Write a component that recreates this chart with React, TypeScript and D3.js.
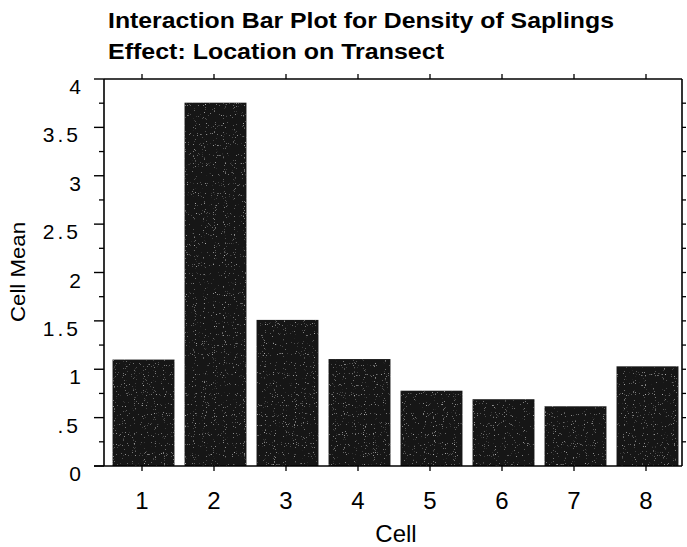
import React from "react";
import * as d3 from "d3";

const cells = ["1", "2", "3", "4", "5", "6", "7", "8"];
const cellMeans = [1.1, 3.755, 1.51, 1.105, 0.778, 0.69, 0.617, 1.03];
const yTickValues = [0, 0.5, 1, 1.5, 2, 2.5, 3, 3.5, 4];
const yTickLabels = ["0", ".5", "1", "1.5", "2", "2.5", "3", "3.5", "4"];
const yMinorTicks = [0.25, 0.75, 1.25, 1.75, 2.25, 2.75, 3.25, 3.75];
const titleLines = ["Interaction Bar Plot for Density of Saplings", "Effect: Location on Transect"];
const xLabel = "Cell";
const yLabel = "Cell Mean";

const W = 687;
const H = 547;
const plot = { left: 104, right: 682, top: 79, bottom: 466 };
const font = "'Liberation Sans', Arial, Helvetica, sans-serif";

export default function App() {
  const x = d3
    .scaleBand<string>()
    .domain(cells)
    .range([107.5, 683.5])
    .paddingInner(0.14)
    .paddingOuter(0.07);
  const y = d3.scaleLinear().domain([0, 4]).range([plot.bottom, plot.top]);
  const allQuarter = d3.range(0, 4.001, 0.25).map((v) => +v.toFixed(2));

  return (
    <svg
      width={W}
      height={H}
      style={{ position: "absolute", left: 0, top: 0, display: "block", background: "#fff" }}
    >
      <defs>
        <filter id="speckle" x="0" y="0" width="100%" height="100%">
          <feTurbulence type="fractalNoise" baseFrequency="0.9" numOctaves={1} seed={3} result="n" />
          <feColorMatrix
            in="n"
            type="matrix"
            values="0 0 0 0 0.45  0 0 0 0 0.45  0 0 0 0 0.45  0 0 0 6 -4.0"
            result="dots"
          />
          <feComposite in="dots" in2="SourceGraphic" operator="in" result="clip" />
          <feMerge>
            <feMergeNode in="SourceGraphic" />
            <feMergeNode in="clip" />
          </feMerge>
        </filter>
      </defs>

      {/* Title */}
      {titleLines.map((t, i) => (
        <text
          key={t}
          x={108}
          y={28 + i * 31}
          fontFamily={font}
          fontWeight="bold"
          fontSize={22}
          textLength={i === 0 ? 506 : 336}
          lengthAdjust="spacingAndGlyphs"
          fill="#000"
        >
          {t}
        </text>
      ))}

      {/* Bars */}
      {cells.map((c, i) => (
        <rect
          key={c}
          x={x(c)!}
          y={y(cellMeans[i])}
          width={x.bandwidth()}
          height={y(0) - y(cellMeans[i])}
          fill="#121212"
          filter="url(#speckle)"
        />
      ))}

      {/* Frame */}
      <line x1={plot.left} x2={plot.right} y1={plot.top} y2={plot.top} stroke="#000" strokeWidth={1.3} />
      <line x1={plot.right} x2={plot.right} y1={plot.top} y2={plot.bottom} stroke="#000" strokeWidth={1.6} />
      <line x1={plot.left} x2={plot.left} y1={plot.top} y2={plot.bottom} stroke="#000" strokeWidth={1.6} />
      <line x1={94} x2={plot.right} y1={plot.bottom} y2={plot.bottom} stroke="#000" strokeWidth={1.6} />

      {/* Left axis ticks */}
      {yTickValues.map((v, i) => (
        <g key={"yt" + v}>
          <line x1={94} x2={plot.left} y1={y(v)} y2={y(v)} stroke="#000" strokeWidth={1.4} />
          <text
            x={81}
            y={y(v) + 15}
            textAnchor="end"
            fontFamily={font}
            fontSize={21}
            letterSpacing={yTickLabels[i].includes(".") ? 3 : 0}
            fill="#000"
          >
            {yTickLabels[i]}
          </text>
        </g>
      ))}
      {yMinorTicks.map((v) => (
        <line key={"ym" + v} x1={99} x2={plot.left} y1={y(v)} y2={y(v)} stroke="#000" strokeWidth={1.3} />
      ))}

      {/* Right axis ticks */}
      {allQuarter.slice(1, -1).map((v) => (
        <line key={"yr" + v} x1={plot.right} x2={plot.right + 4} y1={y(v)} y2={y(v)} stroke="#000" strokeWidth={1.3} />
      ))}

      {/* Bottom & top category ticks */}
      {cells.map((c) => {
        const cx = x(c)! + x.bandwidth() / 2 - 1.5;
        return (
          <g key={"xt" + c}>
            <line x1={cx} x2={cx} y1={plot.bottom} y2={plot.bottom + 5} stroke="#000" strokeWidth={1.3} />
            <line x1={cx} x2={cx} y1={plot.top} y2={plot.top - 5} stroke="#000" strokeWidth={1.3} />
            <text x={cx} y={509} textAnchor="middle" fontFamily={font} fontSize={24} fill="#000">
              {c}
            </text>
          </g>
        );
      })}

      {/* Axis labels */}
      <text x={396} y={542} textAnchor="middle" fontFamily={font} fontSize={24} fill="#000">
        {xLabel}
      </text>
      <text
        transform={`translate(25,272) rotate(-90)`}
        textAnchor="middle"
        fontFamily={font}
        fontSize={21}
        textLength={100}
        lengthAdjust="spacingAndGlyphs"
        fill="#000"
      >
        {yLabel}
      </text>
    </svg>
  );
}
